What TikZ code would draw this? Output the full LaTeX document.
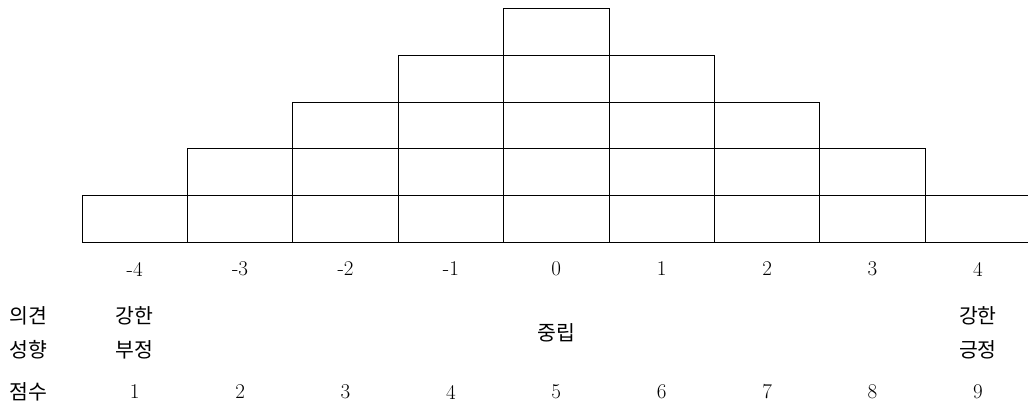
\documentclass[tikz,border=0pt]{standalone}
\usepackage{fontspec}
\usepackage{tikz}
\newfontfamily\krfont{Noto Sans CJK KR}

\begin{document}
\begin{tikzpicture}[x=1pt,y=-1pt,font=\fontsize{21}{25}\selectfont,line width=1pt]
  \clip (0,0) rectangle (1028,417);
  % stacked cells, 5 rows in the middle column
  \foreach \i/\h in {0/1,1/2,2/3,3/4,4/5,5/4,6/3,7/2,8/1}{
    \foreach \j in {1,...,\h}{ \draw (82+\i*105.4,242-\j*46.6) rectangle (82+\i*105.4+105.4,242-\j*46.6+46.6); }
  }
  \foreach \i/\lab in {0/-4,1/-3,2/-2,3/-1,4/0,5/1,6/2,7/3,8/4}{
    \node (val\i) at (134.7+\i*105.4,269) {\lab};
  }
  \foreach \i/\lab in {0/1,1/2,2/3,3/4,4/5,5/6,6/7,7/8,8/9}{
    \node (score\i) at (134.7+\i*105.4,392) {\lab};
  }
  \node (opin) at (28,316) {\krfont\fontsize{20.5}{24}\selectfont 의견};
  \node (tend) at (28,350) {\krfont\fontsize{20.5}{24}\selectfont 성향};
  \node (pts) at (28,392) {\krfont\fontsize{20.5}{24}\selectfont 점수};
  \node (negA) at (134.7,316) {\krfont\fontsize{20.5}{24}\selectfont 강한};
  \node (negB) at (134.7,350) {\krfont\fontsize{20.5}{24}\selectfont 부정};
  \node (neut) at (556.3,333) {\krfont\fontsize{20.5}{24}\selectfont 중립};
  \node (posA) at (977.9,316) {\krfont\fontsize{20.5}{24}\selectfont 강한};
  \node (posB) at (977.9,350) {\krfont\fontsize{20.5}{24}\selectfont 긍정};
\end{tikzpicture}
\end{document}
